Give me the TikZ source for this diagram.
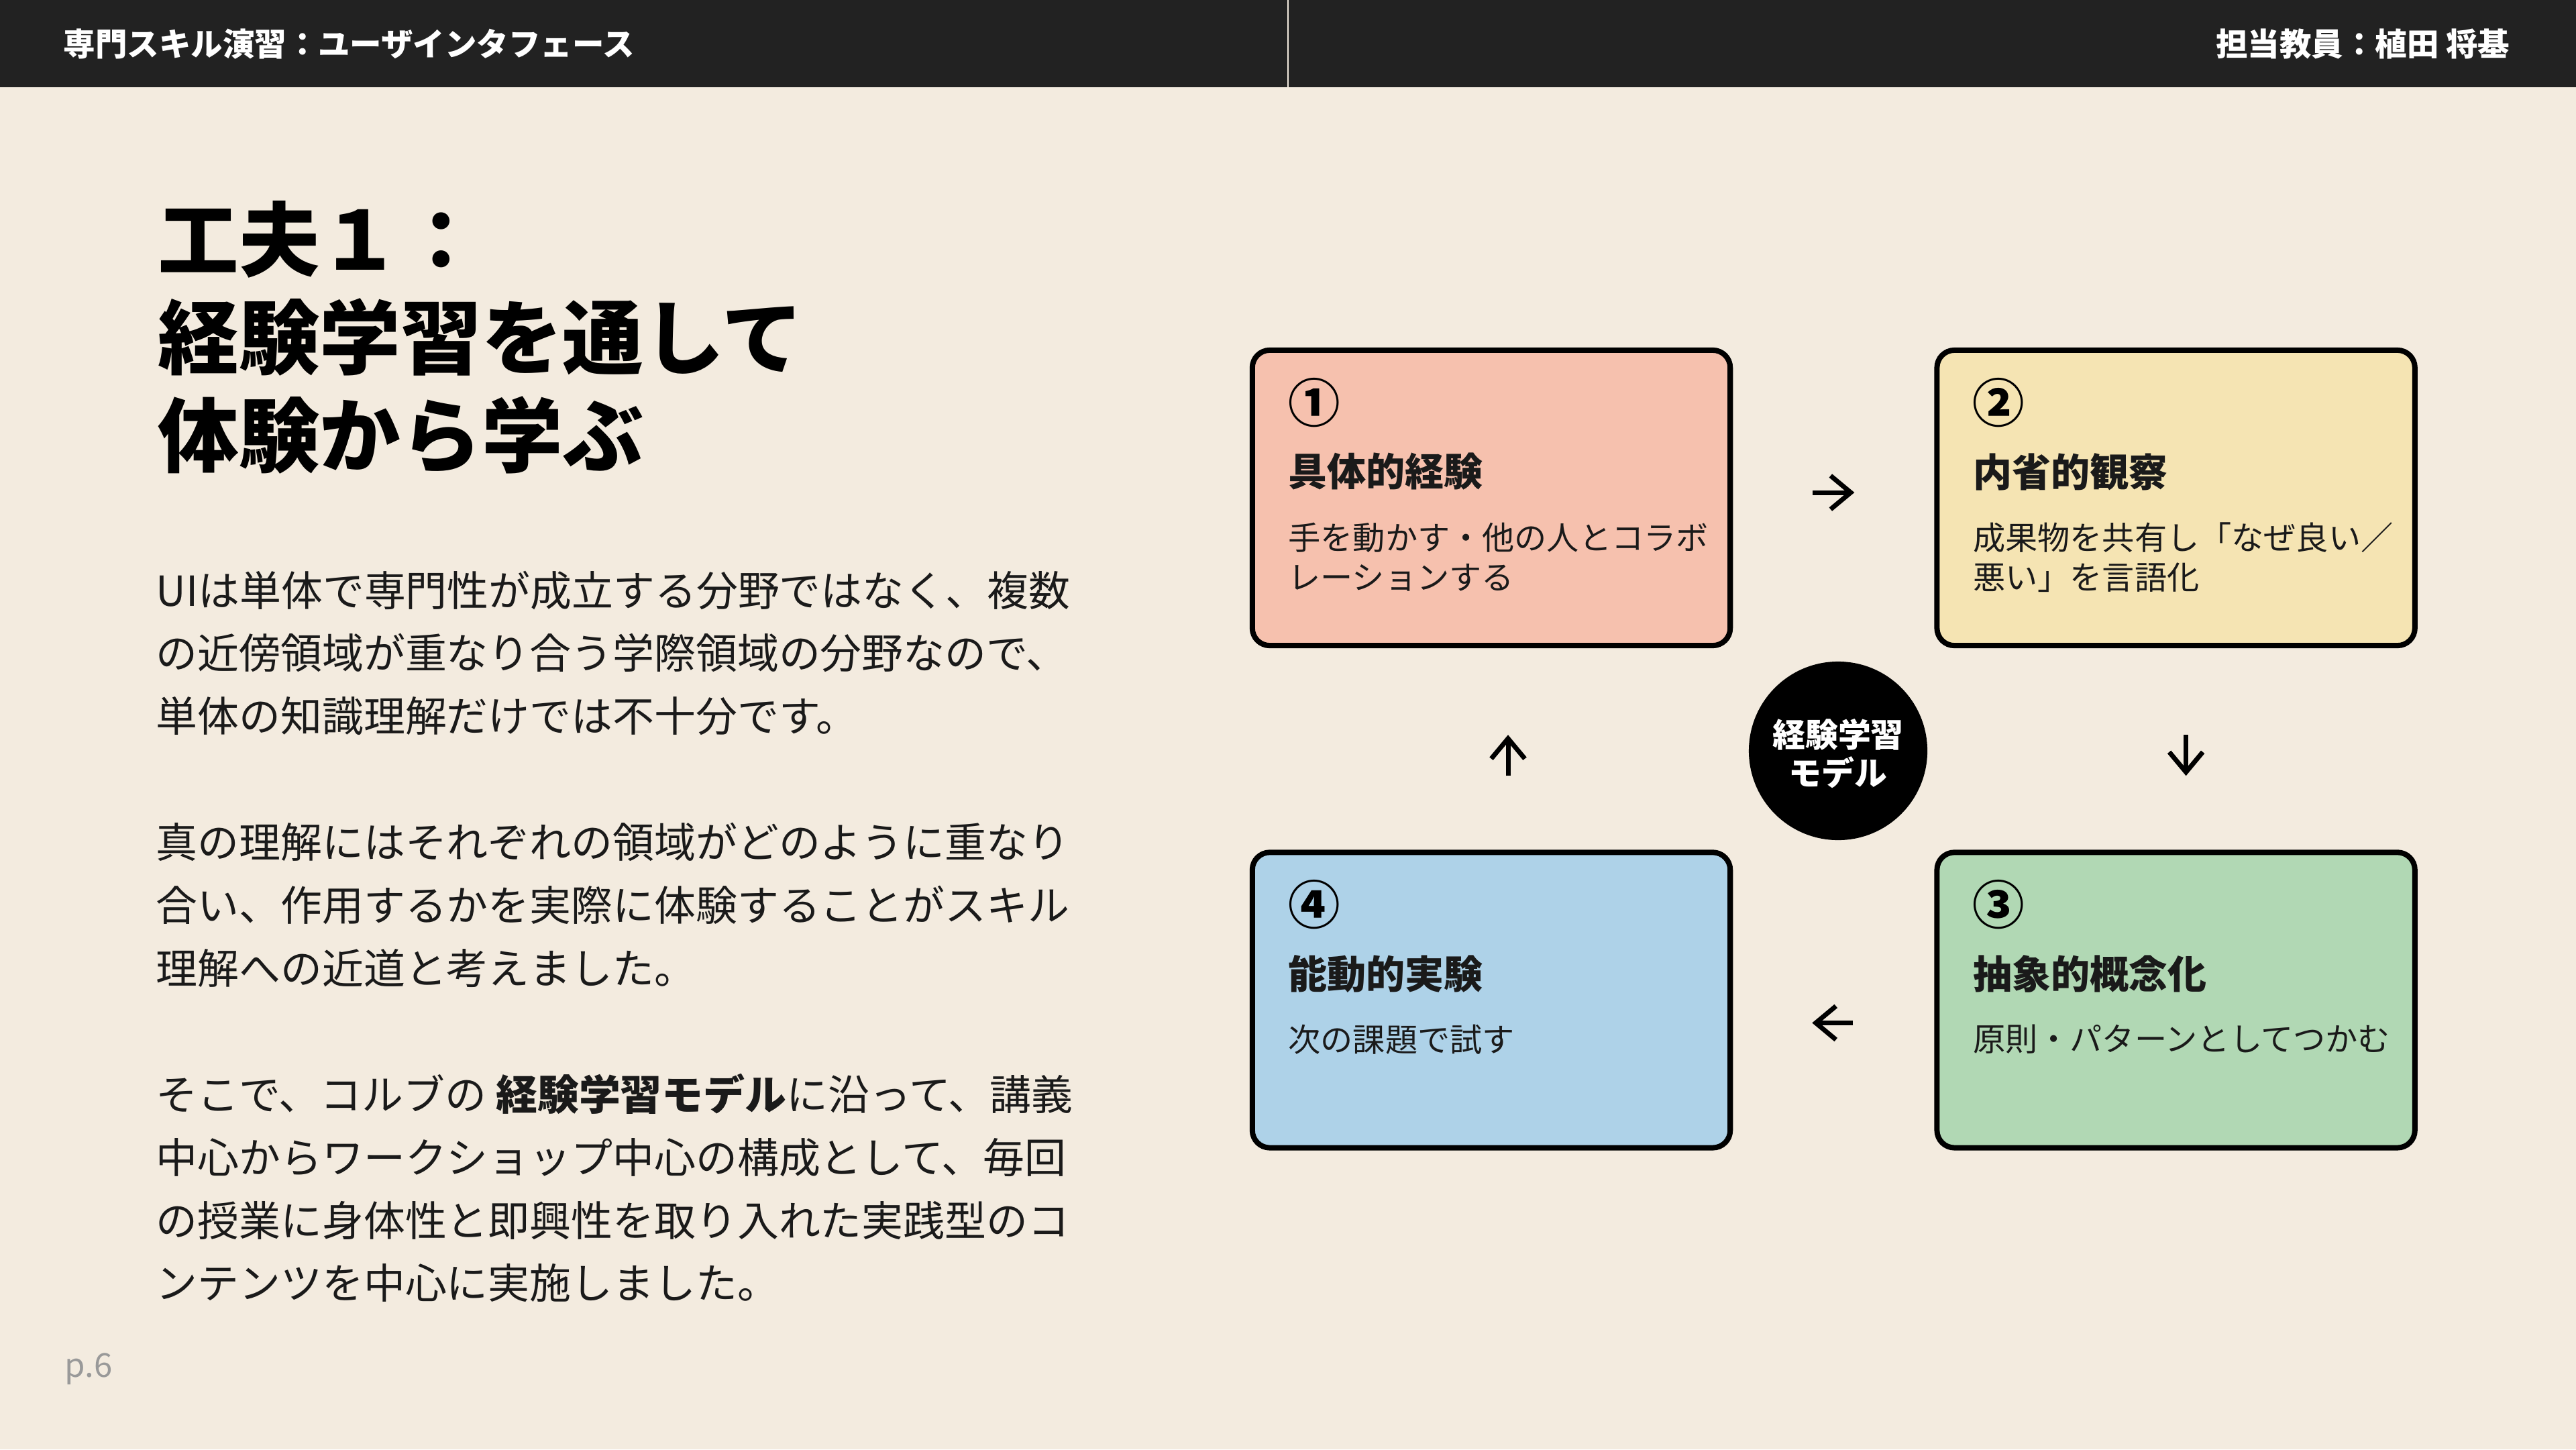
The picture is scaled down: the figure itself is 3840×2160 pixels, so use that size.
\documentclass[tikz,border=0pt]{standalone}
\usepackage{fontspec}
\setmainfont{Noto Sans CJK JP}
\usetikzlibrary{arrows.meta}
\usetikzlibrary{positioning}
\usetikzlibrary{calc}

\definecolor{slidebg}{HTML}{F3EBDF}
\definecolor{barbg}{HTML}{222222}
\definecolor{inkdark}{HTML}{1A1A1A}
\definecolor{boxred}{HTML}{F6C1AE}
\definecolor{boxyellow}{HTML}{F5E4B3}
\definecolor{boxgreen}{HTML}{B1D8B4}
\definecolor{boxblue}{HTML}{AED2E8}
\definecolor{pagegray}{HTML}{999999}

\tikzset{
  stage/.style={draw=black, line width=0.8mm, rounded corners=2.6mm,
    minimum width=71.2mm, minimum height=44mm, inner sep=0pt},
  stagenum/.style={font=\bfseries\fontsize{22}{22}\selectfont, text=black, inner sep=0pt},
  stagetitle/.style={font=\bfseries\fontsize{16.5}{20}\selectfont, text=inkdark, inner sep=0pt},
  stagetext/.style={font=\fontsize{13.7}{16.8}\selectfont, text=inkdark, align=left, inner sep=0pt},
  cyclearrow/.style={line width=0.7mm, -{Straight Barb[length=3mm, width=5mm]}},
  headtext/.style={font=\bfseries\fontsize{13.5}{16}\selectfont, text=white, inner sep=0pt},
}

\begin{document}
\begin{tikzpicture}[x=0.01cm, y=-0.01cm]

% Seite und Kopfzeile
\fill[slidebg] (0,0) rectangle (3840,2160);
\useasboundingbox (0,0) rectangle (3840,2160);
\fill[barbg] (0,0) rectangle (1919,130);
\fill[barbg] (1921,0) rectangle (3840,130);
\node[headtext, anchor=west] (course) at (94,66) {専門スキル演習：ユーザインタフェース};
\node[headtext, anchor=east] (teacher) at (3742,66) {担当教員：植田 将基};

% Titel
\node[font=\bfseries\fontsize{34.3}{41.5}\selectfont, text=black, align=left,
  inner sep=0pt, anchor=north west] (title) at (235,299)
  {工夫１：\\経験学習を通して\\体験から学ぶ};

% Fliesstext
\node[font=\fontsize{17.6}{26.7}\selectfont, text=inkdark, align=left,
  inner sep=0pt, anchor=north west] (body) at (232,850)
  {UIは単体で専門性が成立する分野ではなく、複数\\
   の近傍領域が重なり合う学際領域の分野なので、\\
   単体の知識理解だけでは不十分です。\\[26.7pt]
   真の理解にはそれぞれの領域がどのように重なり\\
   合い、作用するかを実際に体験することがスキル\\
   理解への近道と考えました。\\[26.7pt]
   そこで、コルブの {\bfseries 経験学習モデル}に沿って、講義\\
   中心からワークショップ中心の構成として、毎回\\
   の授業に身体性と即興性を取り入れた実践型のコ\\
   ンテンツを中心に実施しました。};

\node[font=\fontsize{14}{16}\selectfont, text=pagegray, inner sep=0pt,
  anchor=west] (page) at (96,2040) {p.6};

% Vier Phasen
\node[stage, fill=boxred] (ce) at (2223,742) {};
\node[stage, fill=boxyellow, right=30mm of ce] (ro) {};
\node[stage, fill=boxgreen, below=30mm of ro] (ac) {};
\node[stage, fill=boxblue, left=30mm of ac] (ae) {};

\node[stagenum] (ce-n) at ($(ce.north west)+(96,82)$) {①};
\node[stagetitle, anchor=west] (ce-t) at ($(ce.north west)+(57,185)$) {具体的経験};
\node[stagetext, anchor=north west] (ce-d) at ($(ce.north west)+(57,260)$)
  {手を動かす・他の人とコラボ\\レーションする};

\node[stagenum] (ro-n) at ($(ro.north west)+(96,82)$) {②};
\node[stagetitle, anchor=west] (ro-t) at ($(ro.north west)+(57,185)$) {内省的観察};
\node[stagetext, anchor=north west] (ro-d) at ($(ro.north west)+(57,260)$)
  {成果物を共有し「なぜ良い／\\悪い」を言語化};

\node[stagenum] (ac-n) at ($(ac.north west)+(96,82)$) {③};
\node[stagetitle, anchor=west] (ac-t) at ($(ac.north west)+(57,185)$) {抽象的概念化};
\node[stagetext, anchor=north west] (ac-d) at ($(ac.north west)+(57,260)$)
  {原則・パターンとしてつかむ};

\node[stagenum] (ae-n) at ($(ae.north west)+(96,82)$) {④};
\node[stagetitle, anchor=west] (ae-t) at ($(ae.north west)+(57,185)$) {能動的実験};
\node[stagetext, anchor=north west] (ae-d) at ($(ae.north west)+(57,260)$)
  {次の課題で試す};

% Kreislauf
\draw[cyclearrow, shorten <=11.9mm, shorten >=11.9mm]
  ([yshift=0.8mm]ce.east) -- ([yshift=0.8mm]ro.west);
\draw[cyclearrow, shorten <=12.9mm, shorten >=11mm]
  ([xshift=1.5mm]ro.south) -- ([xshift=1.5mm]ac.north);
\draw[cyclearrow, shorten <=12.1mm, shorten >=11.8mm]
  ([yshift=-3.4mm]ac.west) -- ([yshift=-3.4mm]ae.east);
\draw[cyclearrow, shorten <=11mm, shorten >=12.9mm]
  ([xshift=2.5mm]ae.north) -- ([xshift=2.5mm]ce.south);

% Mitte
\node[circle, fill=black, minimum size=26.6mm, inner sep=0pt, text=white,
  align=center, font=\bfseries\fontsize{13.9}{16}\selectfont] (hub) at (2740,1119)
  {\rule{0pt}{14.3pt}経験学習\\モデル};

\end{tikzpicture}
\end{document}
